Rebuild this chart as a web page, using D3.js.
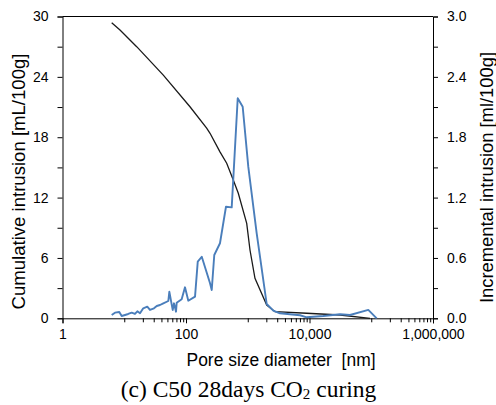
<!DOCTYPE html>
<html><head><meta charset="utf-8">
<script src="https://cdn.jsdelivr.net/npm/d3@7"></script>
<style>html,body{margin:0;padding:0;background:#fff;}svg{display:block;}</style>
</head><body>
<svg id="chart" width="496" height="405"></svg>
<script>
// Cumulative intrusion (left axis, mL/100g)
const cumDiameter = [6.26, 8.53, 15.9, 42.9, 116, 216, 245, 355, 456, 583, 703, 962, 1087, 1309, 2028, 2762, 9010, 31200, 95500];
const cumIntrusion = [29.38, 28.66, 27.0, 24.17, 21.03, 18.9, 18.39, 16.55, 15.41, 13.75, 12.43, 9.44, 6.79, 3.98, 1.32, 0.66, 0.50, 0.33, 0.0];
// Incremental intrusion (right axis, ml/100g)
const incDiameter = [6.26, 7.08, 8.31, 9.09, 10.3, 11.6, 13.2, 14.9, 16.3, 18.0, 20.3, 23.6, 26.1, 30.3, 33.6, 37.9, 42.9, 51.7, 53.7, 60.9, 63.9, 68.9, 70.7, 85.1, 96.3, 109, 140, 155, 180, 245, 261, 287, 355, 444, 550, 688, 828, 1020, 1396, 2028, 2594, 3327, 7015, 9010, 16700, 31200, 45300, 89600, 122500];
const incIntrusion = [0.033, 0.056, 0.063, 0.023, 0.033, 0.043, 0.056, 0.043, 0.070, 0.050, 0.099, 0.115, 0.083, 0.099, 0.122, 0.132, 0.149, 0.172, 0.264, 0.083, 0.149, 0.066, 0.155, 0.189, 0.308, 0.175, 0.215, 0.563, 0.612, 0.348, 0.281, 0.629, 0.746, 1.109, 1.103, 2.187, 2.103, 1.507, 0.845, 0.142, 0.076, 0.050, 0.030, 0.010, 0.023, 0.040, 0.033, 0.083, 0.0];

const xMajorTicks = [1, 100, 10000, 1000000];
const xTickLabels = ["1", "100", "10,000", "1,000,000"];
const xMinorTicks = [10,20,30,40,50,60,70,80,90, 1000,2000,3000,4000,5000,6000,7000,8000,9000, 100000,200000,300000,400000,500000,600000,700000,800000,900000];
const leftTicks = [0, 6, 12, 18, 24, 30];
const leftMinor = [3, 9, 15, 21, 27];
const rightTicks = [0, 0.6, 1.2, 1.8, 2.4, 3.0];
const rightMinor = [0.3, 0.9, 1.5, 2.1, 2.7];

const svg = d3.select("#chart");
const L = 62.5, R = 433, T = 16.5, B = 318.3;
const x = d3.scaleLog().domain([1, 1e6]).range([L, R]);
const yL = d3.scaleLinear().domain([0, 30]).range([B, T]);
const yR = d3.scaleLinear().domain([0, 3]).range([B, T]);
const sans = "'Liberation Sans', Arial, sans-serif";
const serif = "'Liberation Serif', 'Times New Roman', serif";

// frame top
svg.append("line").attr("x1", L).attr("x2", R).attr("y1", T).attr("y2", T).attr("stroke", "#000").attr("stroke-width", 1);

// bottom axis
svg.append("g").attr("transform", `translate(0,${B})`)
  .call(d3.axisBottom(x).tickValues(xMajorTicks).tickFormat((d, i) => xTickLabels[i]).tickSizeOuter(0).tickSize(5).tickPadding(6));
svg.append("g").attr("transform", `translate(0,${B})`)
  .call(d3.axisBottom(x).tickValues(xMinorTicks).tickFormat("").tickSizeOuter(0).tickSize(4))
  .select(".domain").remove();

// left axis
svg.append("g").attr("transform", `translate(${L},0)`)
  .call(d3.axisLeft(yL).tickValues(leftTicks).tickFormat(d3.format("d")).tickSizeOuter(0).tickSize(5).tickPadding(9));
svg.append("g").attr("transform", `translate(${L},0)`)
  .call(d3.axisLeft(yL).tickValues(leftMinor).tickFormat("").tickSizeOuter(0).tickSize(5))
  .select(".domain").remove();

// right axis
svg.append("g").attr("transform", `translate(${R},0)`)
  .call(d3.axisRight(yR).tickValues(rightTicks).tickFormat(d3.format(".1f")).tickSizeOuter(0).tickSize(5).tickPadding(9));
svg.append("g").attr("transform", `translate(${R},0)`)
  .call(d3.axisRight(yR).tickValues(rightMinor).tickFormat("").tickSizeOuter(0).tickSize(5))
  .select(".domain").remove();

svg.selectAll(".tick text").style("font-family", sans).style("font-size", "14px").attr("fill", "#000");
svg.selectAll(".domain, .tick line").attr("stroke", "#000");

// lines
const cumData = cumDiameter.map((d, i) => [d, cumIntrusion[i]]);
const incData = incDiameter.map((d, i) => [d, incIntrusion[i]]);
svg.append("path").datum(cumData)
  .attr("d", d3.line().x(d => x(d[0])).y(d => yL(d[1])))
  .attr("fill", "none").attr("stroke", "#1a1a1a").attr("stroke-width", 1.3);
svg.append("path").datum(incData)
  .attr("d", d3.line().x(d => x(d[0])).y(d => yR(d[1])))
  .attr("fill", "none").attr("stroke", "#4a7ebb").attr("stroke-width", 1.9).attr("stroke-linejoin", "round");

// axis titles
svg.append("text").attr("transform", "translate(25,181.5) rotate(-90)")
  .attr("text-anchor", "middle").style("font-family", sans).style("font-size", "18px")
  .attr("textLength", 256).attr("lengthAdjust", "spacingAndGlyphs")
  .text("Cumulative intrusion [mL/100g]");
svg.append("text").attr("transform", "translate(493,177.5) rotate(-90)")
  .attr("text-anchor", "middle").style("font-family", sans).style("font-size", "18px")
  .attr("textLength", 251).attr("lengthAdjust", "spacingAndGlyphs")
  .text("Incremental intrusion [ml/100g]");
svg.append("text").attr("x", 281).attr("y", 365.5)
  .attr("text-anchor", "middle").style("font-family", sans).style("font-size", "17.5px")
  .attr("textLength", 189).attr("lengthAdjust", "spacingAndGlyphs")
  .style("white-space", "pre")
  .text("Pore size diameter  [nm]");

// caption
const cap = svg.append("text").attr("x", 248.5).attr("y", 397.3)
  .attr("text-anchor", "middle").style("font-family", serif).style("font-size", "23.5px");
cap.append("tspan").text("(c) C50 28days CO");
cap.append("tspan").style("font-size", "15px").attr("dy", 2).text("2");
cap.append("tspan").attr("dy", -2).text(" curing");
</script>
</body></html>
